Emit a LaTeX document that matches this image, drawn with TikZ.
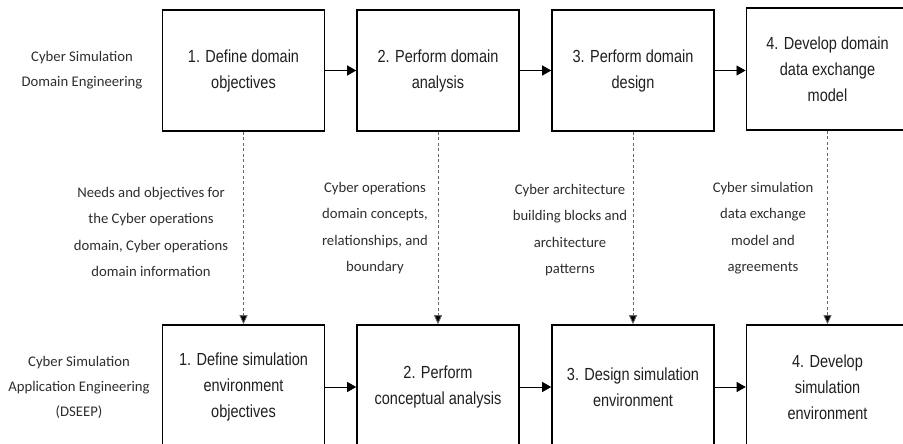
\documentclass[tikz,border=0pt]{standalone}
\usepackage{fontspec}
\setmainfont{Liberation Sans}
\newfontfamily\boxfont[FakeStretch=0.83]{Liberation Sans}
\newfontfamily\lblfont{Carlito}
\usetikzlibrary{arrows.meta}
\begin{document}
\begin{tikzpicture}[x=1pt,y=-1pt,
  stepbox/.style={draw=black,line width=1.6pt,minimum width=162pt,inner sep=0pt,align=center,
    font=\boxfont\fontsize{17.5}{26}\selectfont,text=black!88},
  lbl/.style={align=center,inner sep=0pt,font=\lblfont\fontsize{14.7}{26.5}\selectfont,text=black!82},
  side/.style={align=center,inner sep=0pt,font=\lblfont\fontsize{14.7}{25}\selectfont,text=black!82},
  flow/.style={line width=0.8pt,-{Triangle[length=9pt,width=10pt]}},
  dasharrow/.style={draw=black!60,line width=0.8pt,dash pattern=on 3pt off 2.5pt,
    -{Triangle[length=9pt,width=8pt,fill=black]}}]
\useasboundingbox (0,0) rectangle (903,444);
\clip (0,0) rectangle (903,444);
% top row
\node[stepbox,minimum height=121pt] (t1) at (243.5,70.5) {1. Define domain\\objectives};
\node[stepbox,minimum height=121pt] (t2) at (438,70.5) {2. Perform domain\\analysis};
\node[stepbox,minimum height=121pt] (t3) at (633,70.5) {3. Perform domain\\design};
\node[stepbox,minimum height=122pt,line width=1.9pt] (t4) at (827.5,69) {4. Develop domain\\data exchange\\model};
% bottom row
\node[stepbox,minimum height=124pt] (b1) at (243.5,387) {1. Define simulation\\environment\\objectives};
\node[stepbox,minimum height=124pt] (b2) at (438,387) {2. Perform\\conceptual analysis};
\node[stepbox,minimum height=124pt] (b3) at (633,387) {3. Design simulation\\environment};
\node[stepbox,minimum height=124pt] (b4) at (827.5,387) {4. Develop\\simulation\\environment};
% side labels
\node[side] (s1) at (82,70) {Cyber Simulation\\Domain Engineering};
\node[side] (s2) at (79,387) {Cyber Simulation\\Application Engineering\\(DSEEP)};
% flow labels
\node[lbl] (l1) at (151,232) {Needs and objectives for\\the Cyber operations\\domain, Cyber operations\\domain information};
\node[lbl] (l2) at (375,228) {Cyber operations\\domain concepts,\\relationships, and\\boundary};
\node[lbl] (l3) at (570,230) {Cyber architecture\\building blocks and\\architecture\\patterns};
\node[lbl] (l4) at (763,228) {Cyber simulation\\data exchange\\model and\\agreements};
% horizontal arrows
\draw[flow] (t1.east) -- (t2.west);
\draw[flow] (t2.east) -- (t3.west);
\draw[flow] (t3.east) -- (t4.west |- t3.east);
\draw[flow] (b1.east) -- (b2.west);
\draw[flow] (b2.east) -- (b3.west);
\draw[flow] (b3.east) -- (b4.west);
% dashed arrows
\draw[dasharrow] (t1.south) -- (b1.north);
\draw[dasharrow] (t2.south) -- (b2.north);
\draw[dasharrow] (t3.south) -- (b3.north);
\draw[dasharrow] (t4.south) -- (b4.north);
\end{tikzpicture}
\end{document}
